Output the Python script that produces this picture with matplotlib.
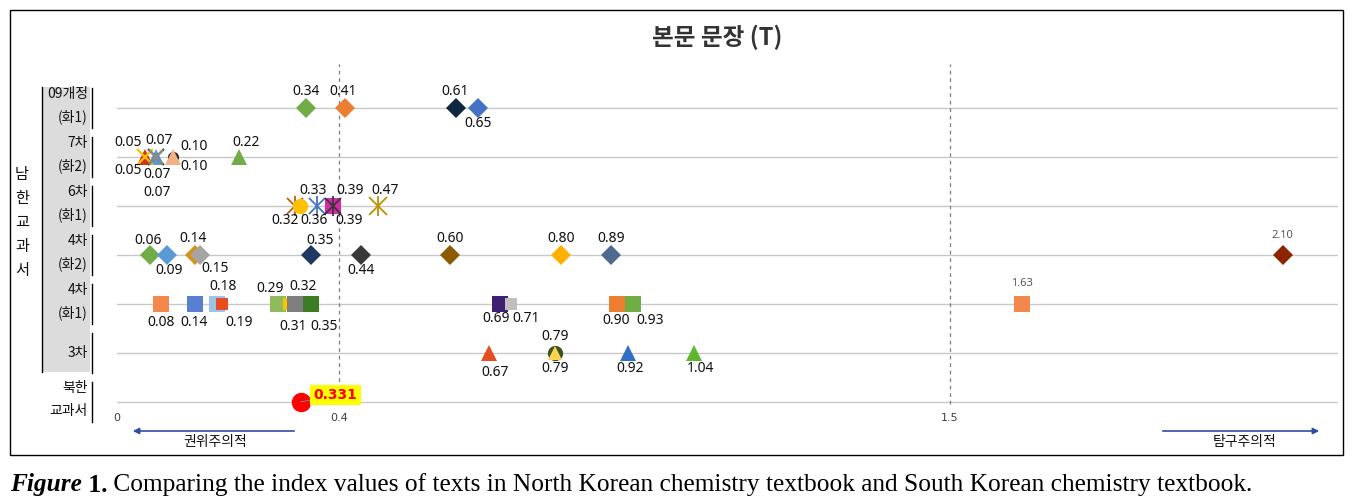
import numpy as np
import matplotlib.pyplot as plt
from matplotlib.patches import Rectangle

plt.rcParams['font.family'] = ['Noto Sans CJK KR', 'DejaVu Sans']

W, H = 1369, 501

#--------------------------------------------------------------------------
# DATA
row_names = [['09개정', '(화1)'], ['7차', '(화2)'], ['6차', '(화1)'],
             ['4차', '(화2)'], ['4차', '(화1)'], ['3차'], ['북한', '교과서']]
tick_vals = [0, 0.4, 1.5]

v09 = [0.34, 0.41, 0.61, 0.65]
v7 = [0.05, 0.05, 0.07, 0.07, 0.07, 0.10, 0.10, 0.22]
v6 = [0.32, 0.33, 0.36, 0.39, 0.39, 0.47]
v4b = [0.06, 0.09, 0.14, 0.15, 0.35, 0.44, 0.60, 0.80, 0.89, 2.10]
v4a = [0.08, 0.14, 0.18, 0.19, 0.29, 0.31, 0.32, 0.35, 0.69, 0.71, 0.90, 0.93, 1.63]
v3 = [0.67, 0.79, 0.79, 0.92, 1.04]
v_nk = 0.331

#--------------------------------------------------------------------------
# STYLES (marker, colour, size, label offset in pixels)
s09 = dict(m=['D'] * 4,
           c=['#70AD47', '#ED7D31', '#0E2841', '#4472C4'],
           ms=[10] * 4,
           off=[(0, 16), (-1, 16), (0, 16), (0, -16)])
s7 = dict(m=['x', '^', 'x', '^', 'x', 'o', '^', '^'],
          c=['#FFC000', '#D9321B', '#375623', '#5B9BD5', '#8C8C8C', '#262626', '#F4B183', '#70AD47'],
          ms=[11, 11, 11, 11, 10, 8, 11, 12],
          off=[(-17, -13), (-17, 14), (3, 17), (1, -18), (1, -35), (22, 11), (22, -10), (7, 15)])
s6 = dict(m=['*x', 'o', '*x', 's', '*x', '*x'],
          c=['#C55A11', '#FFC000', '#4472C4', '#D62AA6', '#3B3838', '#BF9000'],
          ms=[12, 11, 12, 11, 12, 13],
          off=[(-10, -15), (13, 16), (-3, -15), (17, 16), (16, -15), (7, 15)])
s4b = dict(m=['D'] * 10,
           c=['#70AD47', '#5B9BD5', '#D69216', '#A5A5A5', '#203864', '#3A3A3A',
              '#8C5A00', '#FFB000', '#4F6A8F', '#8B2500'],
           ms=[10] * 10,
           off=[(-2, 15), (2, -16), (-2, 16), (15, -14), (9, 14), (0, -16),
                (0, 16), (0, 16), (0, 16), (0, 20)])
s4a = dict(m=['s'] * 13,
           c=['#F4874B', '#5B7FD0', '#9DC3E6', '#E84C22', '#8FBC5A', '#FFC000',
              '#7F7F7F', '#3A7D22', '#3F1F72', '#BFBFBF', '#ED7D31', '#70AD47', '#F4874B'],
           ms=[11, 11, 11, 8, 11, 8, 11, 11, 11, 8, 11, 11, 11],
           off=[(0, -18), (-1, -18), (6, 17), (17, -18), (-8, 15), (4, -22),
                (8, 18), (13, -22), (-4, -15), (15, -15), (0, -17), (17, -16), (0, 20)])
s3 = dict(m=['^', 'o', '^', '^', '^'],
          c=['#E84C22', '#375623', '#FFD34D', '#2F6FC4', '#5DB92B'],
          ms=[11, 11, 10, 11, 11],
          off=[(6, -20), (0, 16), (0, -16), (3, -16), (6, -16)])

small_labels = [2.10, 1.63]
num_font = ['Noto Sans', 'DejaVu Sans']


def fx(px):
    return px / W


def fy(py):
    return 1 - py / H


def draw_row(ax, y, vals, st):
    for v, m, c, ms, off in zip(vals, st['m'], st['c'], st['ms'], st['off']):
        if m == '*x':
            ax.plot([v], [y], marker='x', ls='none', color=c, ms=ms, mew=1.3, zorder=3)
            ax.plot([v], [y], marker='|', ls='none', color=c, ms=ms * 1.15, mew=1.3, zorder=3)
        elif m == 'x':
            ax.plot([v], [y], marker='x', ls='none', color=c, ms=ms, mew=1.6, zorder=4)
        else:
            ax.plot([v], [y], marker=m, ls='none', color=c, ms=ms, mew=0, zorder=3)
        if v in small_labels:
            ax.annotate(f'{v:.2f}', (v, y), xytext=off, textcoords='offset pixels',
                        ha='center', va='center', fontsize=8, color='#595959', zorder=5,
                        family=num_font)
        else:
            ax.annotate(f'{v:.2f}', (v, y), xytext=off, textcoords='offset pixels',
                        ha='center', va='center', fontsize=10, color='#111111', zorder=5,
                        family=num_font)


#--------------------------------------------------------------------------
# FIGURE
fig = plt.figure(figsize=(W / 100, H / 100), dpi=100)

# chart border
fig.add_artist(Rectangle((fx(10), fy(455)), fx(1343) - fx(10), fy(10) - fy(455),
                         transform=fig.transFigure, fill=False, ec='black', lw=1))

ax = fig.add_axes([fx(117), fy(425), fx(1338) - fx(117), fy(62) - fy(425)])
ax.set_xlim(0, 2.2)
ax.set_ylim((402 - 425) / 49, (402 - 62) / 49)
ax.axis('off')

rows_y = [6, 5, 4, 3, 2, 1, 0]
for y in rows_y:
    ax.plot([0, 2.2], [y, y], color='#C8C8C8', lw=1, zorder=1)

for xv in [0.4, 1.5]:
    ax.plot([xv, xv], [-0.05, 6.9], color='#7F7F7F', lw=0.9, ls=(0, (3, 3)), zorder=1)

# tick labels
for t in tick_vals:
    ax.text(t, -0.33, f'{t:g}', ha='center', va='center', fontsize=8, color='#404040',
            family=['DejaVu Sans'])

draw_row(ax, 6, v09, s09)
draw_row(ax, 5, v7, s7)
draw_row(ax, 4, v6, s6)
draw_row(ax, 3, v4b, s4b)
draw_row(ax, 2, v4a, s4a)
draw_row(ax, 1, v3, s3)

# North Korea
ax.plot([v_nk], [0], marker='o', ls='none', color='#FF0000', ms=13, zorder=4)
ax.annotate(f'{v_nk:.3f}', (v_nk, 0), xytext=(35, 7), textcoords='offset pixels',
            ha='center', va='center', fontsize=10, fontweight='bold', color='#FF0000',
            family=['DejaVu Sans'],
            bbox=dict(boxstyle='square,pad=0.25', fc='#FFFF00', ec='none'), zorder=5,
            arrowprops=dict(arrowstyle='-', color='#7F7F7F', lw=0.7, shrinkA=0, shrinkB=8))

# title
fig.text(fx(717), fy(37), '본문 문장 (T)', ha='center', va='center', fontsize=17,
         fontweight='bold', color='#333333')

# left row labels
fig.add_artist(Rectangle((fx(42), fy(372)), fx(90) - fx(42), fy(87) - fy(372),
                         transform=fig.transFigure, fc='#DCDCDC', ec='none', zorder=0))
fig.add_artist(plt.Line2D([fx(42), fx(42)], [fy(87), fy(372)], color='black', lw=1))
row_px = [108, 157, 206, 255, 304, 353, 402]
for names, py in zip(row_names, row_px):
    if len(names) == 2:
        fig.text(fx(88), fy(py - 14), names[0], ha='right', va='center', fontsize=10, color='#111111')
        fig.text(fx(88), fy(py + 9), names[1], ha='right', va='center', fontsize=10, color='#111111')
    else:
        fig.text(fx(88), fy(py), names[0], ha='right', va='center', fontsize=10, color='#111111')
    fig.add_artist(plt.Line2D([fx(92), fx(92)], [fy(py - 20), fy(py + 20)], color='black', lw=1))

for i, ch in enumerate('남한교과서'):
    fig.text(fx(22), fy(174 + 24 * i), ch, ha='center', va='center', fontsize=11, color='#111111')

# direction arrows
ax.annotate('', xy=(fx(130), fy(431)), xytext=(fx(297), fy(431)), xycoords='figure fraction',
            textcoords='figure fraction',
            arrowprops=dict(arrowstyle='-|>', color='#2F4EA0', lw=1.2, mutation_scale=9))
ax.annotate('', xy=(fx(1322), fy(431)), xytext=(fx(1160), fy(431)), xycoords='figure fraction',
            textcoords='figure fraction',
            arrowprops=dict(arrowstyle='-|>', color='#2F4EA0', lw=1.2, mutation_scale=9))
fig.text(fx(215), fy(442), '권위주의적', ha='center', va='center', fontsize=10, color='#111111')
fig.text(fx(1245), fy(442), '탐구주의적', ha='center', va='center', fontsize=10, color='#111111')

# caption
cap_font = ['Liberation Serif']
cap_size = 18.3
t1 = fig.text(fx(10), fy(485), 'Figure', ha='left', va='center', fontsize=cap_size,
              style='italic', fontweight='bold', family=cap_font)
t2 = ax.annotate(' 1.', xy=(1, 0), xycoords=t1, va='bottom', ha='left', fontsize=cap_size,
                 fontweight='bold', family=cap_font)
t3 = ax.annotate(' Comparing the index values of texts in North Korean chemistry textbook '
                 'and South Korean chemistry textbook.', xy=(1, 0), xycoords=t2,
                 va='bottom', ha='left', fontsize=cap_size, family=cap_font)

fig.savefig('out.png', dpi=100)
